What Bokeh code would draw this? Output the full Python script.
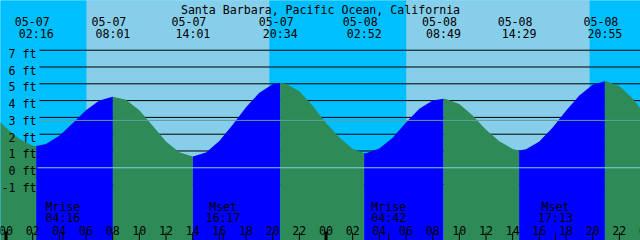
from bokeh.plotting import figure
from bokeh.models import Range1d, ColumnDataSource
from bokeh.embed import file_html
from bokeh.resources import INLINE
from bokeh.core.properties import value

# ---------------- data ----------------
title = "Santa Barbara, Pacific Ocean, California"

tide_dates = ["05-07", "05-07", "05-07", "05-07", "05-08", "05-08", "05-08", "05-08"]
tide_times = ["02:16", "08:01", "14:01", "20:34", "02:52", "08:49", "14:29", "20:55"]
tide_heights = [1.29, 4.23, 0.67, 5.06, 0.87, 4.11, 1.03, 5.15]

# hourly water level (ft); hours counted from 05-07 00:00
curve_hours = [-0.5, 0, 1, 2, 3, 4, 5, 6, 7, 8, 9, 10, 11, 12, 13, 14, 15, 16, 17, 18, 19,
               20, 21, 22, 23, 24, 25, 26, 27, 28, 29, 30, 31, 32, 33, 34, 35, 36, 37, 38,
               39, 40, 41, 42, 43, 44, 45, 46, 47, 48]
curve_heights = [2.77, 2.38, 1.72, 1.31, 1.41, 1.90, 2.65, 3.42, 4.01, 4.23, 4.05, 3.42,
                 2.50, 1.57, 0.92, 0.67, 0.91, 1.59, 2.56, 3.60, 4.47, 4.98, 5.01, 4.55,
                 3.70, 2.67, 1.80, 1.12, 0.87, 1.15, 1.79, 2.70, 3.52, 4.00, 4.10, 3.79,
                 3.11, 2.27, 1.58, 1.12, 1.10, 1.57, 2.40, 3.39, 4.31, 4.95, 5.15, 4.87,
                 4.12, 3.10]

sun_dates = ["05-07", "05-07", "05-08", "05-08"]
sun_times = ["06:02", "19:46", "06:01", "19:47"]

moon_events = ["Mrise", "Mset", "Mrise", "Mset"]
moon_dates = ["05-07", "05-07", "05-08", "05-08"]
moon_times = ["04:16", "16:17", "04:42", "17:13"]

hour_ticks = [0, 2, 4, 6, 8, 10, 12, 14, 16, 18, 20, 22, 24, 26, 28, 30, 32, 34, 36, 38,
              40, 42, 44, 46, 48]
hour_labels = ["00", "02", "04", "06", "08", "10", "12", "14", "16", "18", "20", "22",
               "00", "02", "04", "06", "08", "10", "12", "14", "16", "18", "20", "22", "00"]

depth_levels = [7, 6, 5, 4, 3, 2, 1, 0, -1]
depth_labels = ["7 ft", "6 ft", "5 ft", "4 ft", "3 ft", "2 ft", "1 ft", "0 ft", "-1 ft"]
msl_level = 2.82
datum_level = 0

# ---------------- layout / style ----------------
W, H = 640, 240
X0 = -0.4125
X1 = X0 + 48
Y_TOP = 9.96
Y_BOT = -4.33

NIGHT = "#00bfff"
DAY = "#87ceeb"
RISE = "#0000ff"
FALL = "#2e8b57"
MSL_C = "#5f9ea0"
DATUM_C = "#87ceeb"
FONT = value("DejaVu Sans Mono")
FS = "11.6px"

DAY_OFF = {"05-07": 0, "05-08": 24}


def hrs(d, t):
    hh, mm = t.split(":")
    return DAY_OFF[d] + int(hh) + int(mm) / 60.0


def py(pix):
    return Y_TOP - pix * (Y_TOP - Y_BOT) / H


def px(pix):
    return X0 + pix * (X1 - X0) / W


p = figure(width=W, height=H, x_range=Range1d(X0, X1), y_range=Range1d(Y_BOT, Y_TOP),
           output_backend="svg", toolbar_location=None, min_border=0,
           x_axis_type=None, y_axis_type=None)
p.grid.visible = False
p.outline_line_color = None
p.background_fill_color = NIGHT
p.border_fill_color = NIGHT

# sky bands
sun_h = [hrs(d, t) for d, t in zip(sun_dates, sun_times)]
bounds = [X0 - 2] + sun_h + [X1 + 2]
lefts, rights, cols = [], [], []
for i in range(len(bounds) - 1):
    lefts.append(bounds[i])
    rights.append(bounds[i + 1])
    cols.append(NIGHT if i % 2 == 0 else DAY)
p.quad(left=lefts, right=rights, bottom=Y_BOT - 1, top=Y_TOP + 1, fill_color=cols,
       line_color=None)

# depth lines (hidden under water)
lx0 = px(39)
p.segment(x0=[lx0] * len(depth_levels), y0=depth_levels, x1=[X1 + 1] * len(depth_levels),
          y1=depth_levels, line_color="black", line_width=1)

# water
tide_h = [hrs(d, t) for d, t in zip(tide_dates, tide_times)]
pts = sorted(list(zip(curve_hours, curve_heights)) + list(zip(tide_h, tide_heights)))
wb = [curve_hours[0]] + tide_h + [curve_hours[-1]]
for i in range(len(wb) - 1):
    a, b = wb[i], wb[i + 1]
    seg = [(t, v) for t, v in pts if a - 1e-9 <= t <= b + 1e-9]
    rising = seg[-1][1] > seg[0][1]
    xs = [t for t, v in seg]
    ys = [v for t, v in seg]
    p.varea(x=xs, y1=[Y_BOT - 1] * len(xs), y2=ys, fill_color=RISE if rising else FALL)

# datum and msl lines
p.segment(x0=[px(37)], y0=[datum_level], x1=[X1 + 1], y1=[datum_level],
          line_color=DATUM_C, line_width=1)
p.segment(x0=[lx0], y0=[msl_level], x1=[X1 + 1], y1=[msl_level],
          line_color=MSL_C, line_width=1)

# depth labels
p.text(x=[px(36)] * len(depth_levels), y=depth_levels, text=depth_labels,
       text_font=FONT, text_font_size=FS, text_align="right",
       text_baseline="alphabetic", y_offset=3.5, text_color="black")

# title and tide labels
p.text(x=[(X0 + X1) / 2], y=[py(9.6)], text=[title], text_font=FONT, text_font_size=FS,
       text_align="center", text_baseline="alphabetic", text_color="black")
p.text(x=tide_h, y=[py(21.2)] * len(tide_h), text=tide_dates, text_font=FONT,
       text_font_size=FS, text_align="center", text_baseline="alphabetic",
       x_offset=-4, text_color="black")
p.text(x=tide_h, y=[py(33.4)] * len(tide_h), text=tide_times, text_font=FONT,
       text_font_size=FS, text_align="center", text_baseline="alphabetic",
       text_color="black")

# moon labels
moon_h = [hrs(d, t) for d, t in zip(moon_dates, moon_times)]
p.text(x=moon_h, y=[py(206.2)] * len(moon_h), text=moon_events, text_font=FONT,
       text_font_size=FS, text_align="center", text_baseline="alphabetic",
       text_color="black")
p.text(x=moon_h, y=[py(217.5)] * len(moon_h), text=moon_times, text_font=FONT,
       text_font_size=FS, text_align="center", text_baseline="alphabetic",
       text_color="black")

# hour ticks and labels
major = [h for h in hour_ticks if h % 24 == 0]
minor = [h for h in hour_ticks if h % 24 != 0]
p.segment(x0=minor, y0=[py(232)] * len(minor), x1=minor, y1=[py(241)] * len(minor),
          line_color="black", line_width=1)
p.segment(x0=major, y0=[py(231)] * len(major), x1=major, y1=[py(241)] * len(major),
          line_color="black", line_width=3)
p.segment(x0=moon_h, y0=[py(232)] * len(moon_h), x1=moon_h, y1=[py(241)] * len(moon_h),
          line_color="black", line_width=1)
p.text(x=hour_ticks, y=[py(229.5)] * len(hour_ticks), text=hour_labels, text_font=FONT,
       text_font_size=FS, text_align="center", text_baseline="alphabetic",
       text_color="black")

open("out.html", "w").write(file_html(p, INLINE))
